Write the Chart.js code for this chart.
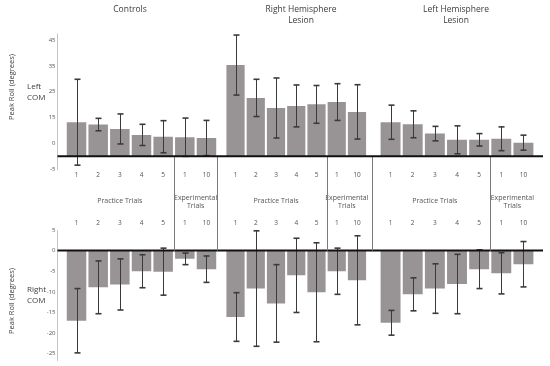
<!DOCTYPE html>
<html><head><meta charset="utf-8">
<script src="https://cdn.jsdelivr.net/npm/chart.js@4.4.1/dist/chart.umd.min.js"></script>
<style>
html,body{margin:0;padding:0;background:#fff;}
#wrap{position:relative;width:550px;height:366px;overflow:hidden;background:#fff;}
#wrap canvas{position:absolute;left:0;top:0;}
</style></head><body>
<div id="wrap">
<canvas id="right1" width="550" height="366"></canvas>
<canvas id="right2" width="550" height="366"></canvas>
<canvas id="right0" width="550" height="366"></canvas>
<canvas id="left1" width="550" height="366"></canvas>
<canvas id="left2" width="550" height="366"></canvas>
<canvas id="left0" width="550" height="366"></canvas>
</div>
<script>
// ---------- data ----------
const groupTitles = [['Controls'], ['Right Hemisphere', 'Lesion'], ['Left Hemisphere', 'Lesion']];
const trialLabels = ['1', '2', '3', '4', '5', '1', '10'];
const practiceLabel = ['Practice Trials'];
const experimentalLabel = ['Experimental', 'Trials'];
const yAxisTitle = 'Peak Roll (degrees)';
const leftPanelLabel = ['Left', 'COM'];
const rightPanelLabel = ['Right', 'COM'];
const leftTickValues = [45, 35, 25, 15, 5, -5];
const leftTickLabels = ['45', '35', '25', '15', '0', '-5'];
const rightTickValues = [5, 0, -5, -10, -15, -20, -25];
const rightTickLabels = ['5', '0', '-5', '-10', '-15', '-20', '-25'];

// Left COM (top panel): mean peak roll and error
const controlsLeft    = [13.2, 12.3, 10.6, 8.3, 7.6, 7.4, 7.1];
const controlsLeftErr = [16.6, 2.4, 5.8, 4.1, 6.2, 7.4, 6.8];
const rhLeft          = [35.3, 22.6, 18.7, 19.5, 20.1, 21.0, 17.2];
const rhLeftErr       = [11.6, 7.2, 11.6, 8.1, 7.3, 7.1, 10.5];
const lhLeft          = [13.2, 12.4, 8.8, 6.4, 6.4, 6.8, 5.3];
const lhLeftErr       = [6.6, 5.2, 2.8, 5.4, 2.4, 4.6, 2.9];

// Right COM (bottom panel)
const controlsRight    = [-17.0, -8.9, -8.2, -5.0, -5.1, -2.0, -4.5];
const controlsRightErr = [7.8, 6.4, 6.2, 4.0, 5.7, 1.4, 3.2];
const rhRight          = [-16.1, -9.2, -12.8, -6.0, -10.1, -5.0, -7.2];
const rhRightErr       = [5.9, 14.0, 9.4, 9.0, 12.0, 5.6, 10.8];
const lhRight          = [-17.5, -10.6, -9.2, -8.1, -4.5, -5.5, -3.3];
const lhRightErr       = [3.0, 4.0, 6.0, 7.2, 4.7, 5.0, 5.5];

const leftValues  = [controlsLeft, rhLeft, lhLeft];
const leftErrors  = [controlsLeftErr, rhLeftErr, lhLeftErr];
const rightValues = [controlsRight, rhRight, lhRight];
const rightErrors = [controlsRightErr, rhRightErr, lhRightErr];

// ---------- layout & style ----------
const FONT = "'Open Sans', 'DejaVu Sans', sans-serif";
const BAR_COLOR = '#989496';
const ERR_COLOR = '#3a3a3a';
const TEXT_COLOR = '#3c3c3c';
const TICK_COLOR = '#555555';
const LAYOUT = {
  groups: [
    {left: 65.7, right: 217.3, titleX: 130, endLine: 0},
    {left: 225.4, right: 367.1, titleX: 301, endLine: 5},
    {left: 379.5, right: 534.5, titleX: 456, endLine: null}
  ],
  axisX: 57.5, lineRight: 543,
  xAxisH: 12,
  left:  {top: 33.5, bottom: 169.3, min: -5, max: 47.5, titleY: 87, panelY: 87},
  right: {top: 230, bottom: 359.9, min: -26.5, max: 5, titleY: 301, panelY: 290},
  titleY: 10, titleLH: 10.5,
  practiceY: 200.5, experimentalY: 197.5, phaseLH: 8
};

const charts = {};

function drawText(ctx, str, x, y, size, color, align) {
  ctx.font = size + 'px ' + FONT;
  ctx.fillStyle = color;
  ctx.textAlign = align || 'center';
  ctx.textBaseline = 'middle';
  ctx.fillText(str, x, y);
}
function drawLine(ctx, x1, y1, x2, y2) {
  ctx.beginPath(); ctx.moveTo(x1, y1); ctx.lineTo(x2, y2); ctx.stroke();
}

const errorBars = {
  id: 'errorBars',
  afterDatasetsDraw(chart) {
    const ctx = chart.ctx, ys = chart.scales.y;
    chart.data.datasets.forEach((ds, di) => {
      chart.getDatasetMeta(di).data.forEach((bar, i) => {
        const v = ds.data[i], e = ds.errors[i];
        const x = Math.round(bar.x) + 0.5;
        const y1 = ys.getPixelForValue(v + e), y2 = ys.getPixelForValue(v - e);
        ctx.save();
        ctx.strokeStyle = ERR_COLOR;
        ctx.lineWidth = 1;
        drawLine(ctx, x, y1, x, y2);
        ctx.lineWidth = 1.6;
        drawLine(ctx, x - 3, y1, x + 3, y1);
        drawLine(ctx, x - 3, y2, x + 3, y2);
        ctx.restore();
      });
    });
  }
};

const decor = {
  id: 'decor',
  afterDraw(chart, args, o) {
    const ctx = chart.ctx, xs = chart.scales.x, ys = chart.scales.y;
    const G = LAYOUT.groups[o.group];
    const P = LAYOUT[o.panel];
    const zero = ys.getPixelForValue(0);
    ctx.save();
    if (o.panel === 'left') {
      groupTitles[o.group].forEach((t, k) =>
        drawText(ctx, t, G.titleX, LAYOUT.titleY + k * LAYOUT.titleLH, 8.5, TEXT_COLOR));
      const pc = (xs.getPixelForValue(0) + xs.getPixelForValue(4)) / 2;
      const ec = (xs.getPixelForValue(5) + xs.getPixelForValue(6)) / 2;
      practiceLabel.forEach((t, k) => drawText(ctx, t, pc, LAYOUT.practiceY + k * LAYOUT.phaseLH, 7, TICK_COLOR));
      experimentalLabel.forEach((t, k) => drawText(ctx, t, ec, LAYOUT.experimentalY + k * LAYOUT.phaseLH, 7, TICK_COLOR));
      const other = charts['right' + o.group];
      const zb = other.scales.y.getPixelForValue(0);
      ctx.strokeStyle = '#7a7a7a';
      ctx.lineWidth = 1;
      const mid = Math.round((xs.getPixelForValue(4) + xs.getPixelForValue(5)) / 2) + 0.5;
      drawLine(ctx, mid, zero, mid, zb);
      if (G.endLine !== null) {
        const ex = Math.round(xs.right + G.endLine) + 0.5;
        drawLine(ctx, ex, zero, ex, zb);
      }
    }
    if (o.group === 0) {
      const ca = chart.chartArea;
      ctx.strokeStyle = '#c4c4c4';
      ctx.lineWidth = 1;
      drawLine(ctx, LAYOUT.axisX, ca.top, LAYOUT.axisX, ca.bottom + 1);
      ctx.strokeStyle = '#111';
      ctx.lineWidth = 2;
      drawLine(ctx, LAYOUT.axisX, zero, LAYOUT.lineRight, zero);
      ctx.save();
      ctx.translate(12, P.titleY);
      ctx.rotate(-Math.PI / 2);
      drawText(ctx, yAxisTitle, 0, 0, 7.5, TEXT_COLOR);
      ctx.restore();
      const pl = o.panel === 'left' ? leftPanelLabel : rightPanelLabel;
      pl.forEach((t, k) => drawText(ctx, t, 27, P.panelY + k * 10.5, 8, TEXT_COLOR, 'left'));
    }
    ctx.restore();
  }
};

function makeChart(group, panel) {
  const isTop = panel === 'left';
  const G = LAYOUT.groups[group];
  const P = LAYOUT[panel];
  const tickValues = isTop ? leftTickValues : rightTickValues;
  const tickLabels = isTop ? leftTickLabels : rightTickLabels;
  const XH = LAYOUT.xAxisH;
  const padding = {
    left: group === 0 ? 0 : G.left,
    right: 550 - G.right,
    top: isTop ? P.top : P.top - XH,
    bottom: isTop ? 366 - P.bottom - XH : 366 - P.bottom
  };
  const c = new Chart(document.getElementById(panel + group), {
    type: 'bar',
    data: {
      labels: trialLabels,
      datasets: [{
        data: (isTop ? leftValues : rightValues)[group],
        errors: (isTop ? leftErrors : rightErrors)[group],
        backgroundColor: BAR_COLOR,
        borderWidth: 0,
        categoryPercentage: 1,
        barPercentage: 0.9
      }]
    },
    options: {
      responsive: false,
      animation: false,
      events: [],
      layout: {padding: padding},
      plugins: {
        legend: {display: false},
        tooltip: {enabled: false},
        decor: {group: group, panel: panel}
      },
      scales: {
        x: {
          position: isTop ? 'bottom' : 'top',
          grid: {display: false, drawTicks: false},
          border: {display: false},
          ticks: {font: {family: FONT, size: 6.5}, color: TICK_COLOR, padding: isTop ? 2 : 3, maxRotation: 0, autoSkip: false},
          afterFit: s => { s.height = XH; s.paddingLeft = 0; s.paddingRight = 0; }
        },
        y: {
          display: group === 0,
          min: P.min, max: P.max,
          grid: {display: false, drawTicks: false},
          border: {display: false},
          ticks: {
            font: {family: FONT, size: 6},
            color: TICK_COLOR,
            padding: G.left - 55.5,
            callback: v => tickLabels[tickValues.indexOf(v)]
          },
          afterBuildTicks: s => { s.ticks = tickValues.map(v => ({value: v})); },
          afterFit: s => { s.width = group === 0 ? G.left : 0; s.paddingTop = 0; s.paddingBottom = 0; }
        }
      }
    },
    plugins: [errorBars, decor]
  });
  charts[panel + group] = c;
  return c;
}

[0, 1, 2].forEach(g => makeChart(g, 'right'));
[0, 1, 2].forEach(g => makeChart(g, 'left'));
</script>
</body></html>
